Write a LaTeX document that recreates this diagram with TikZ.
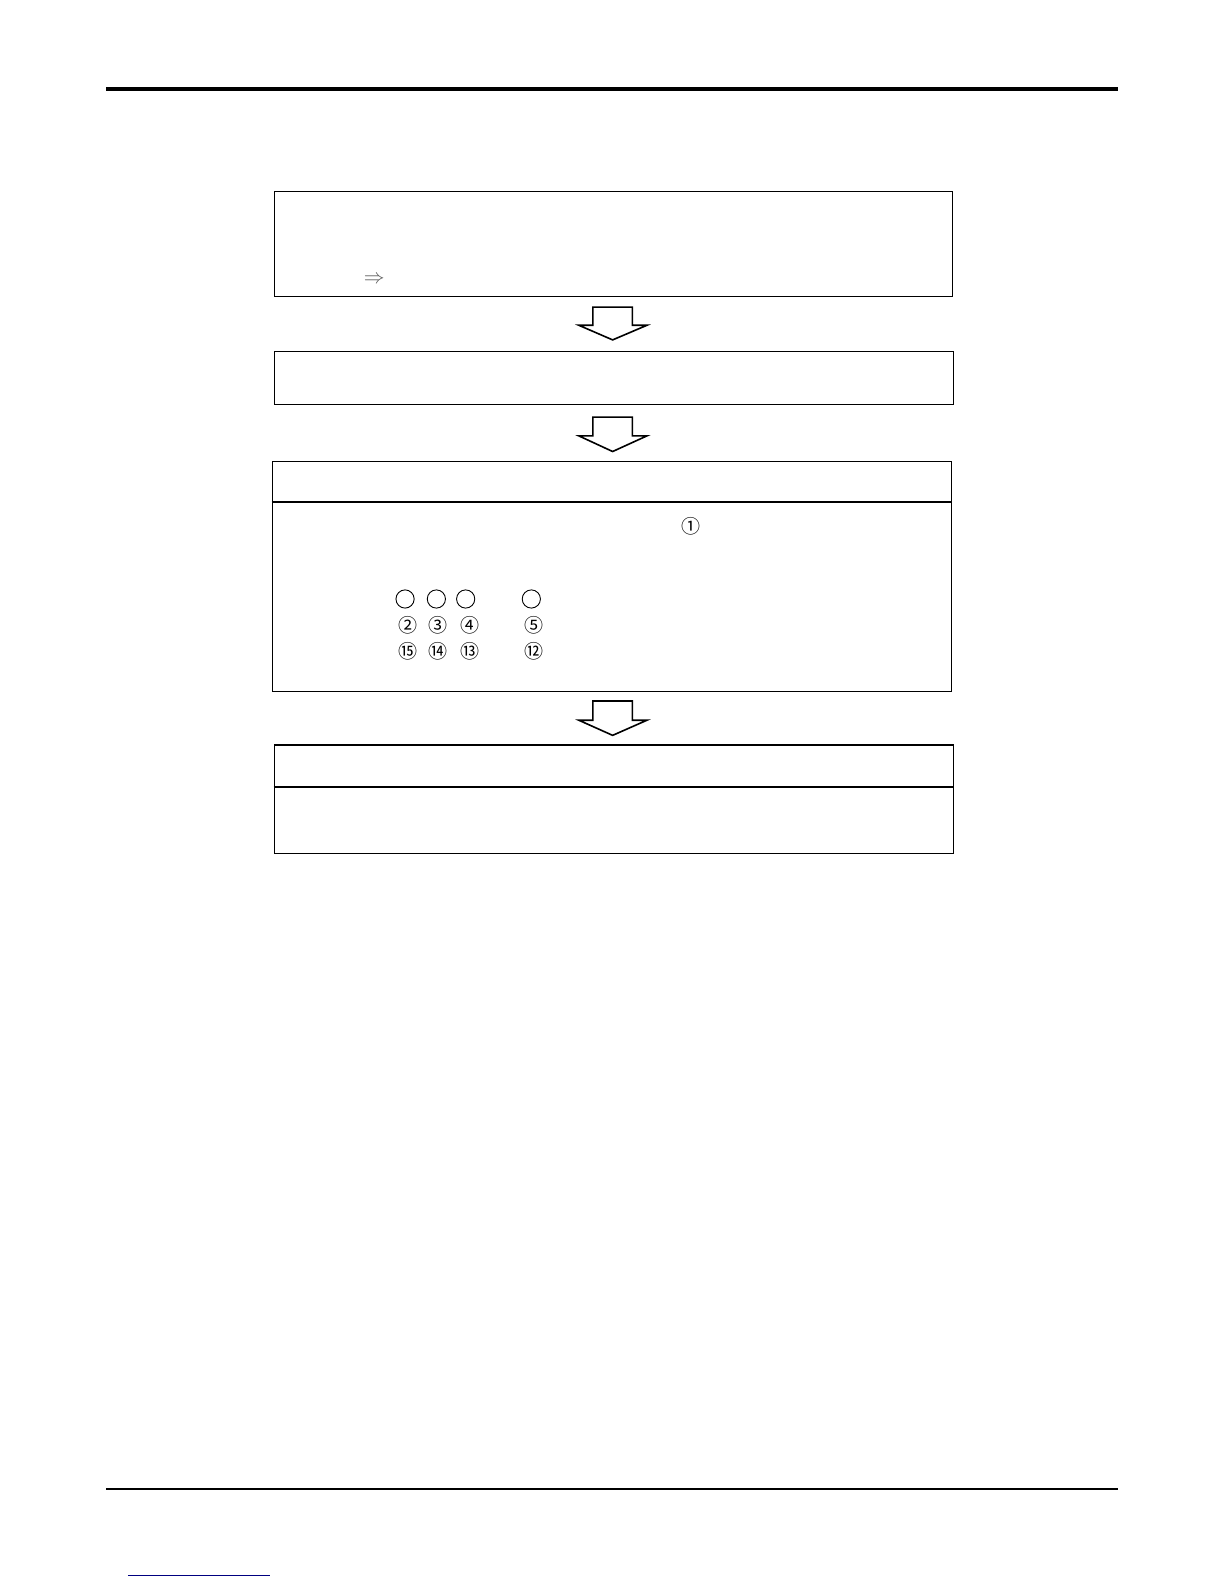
\documentclass[tikz,border=0pt]{standalone}
\usepackage{fontspec}
\newfontfamily\cjk{Noto Sans CJK SC}
\usetikzlibrary{calc}
\begin{document}
\begin{tikzpicture}[x=1.0101pt,y=-1.0101pt,
  box/.style={draw,line width=1.4pt,anchor=north west,inner sep=0pt},
  divider/.style={line width=1.4pt},
  bigarrow/.style={draw,line width=1.6pt,fill=white,line join=miter},
  rule/.style={line width=#1},
  numc/.style={inner sep=0pt,font=\cjk\fontsize{19}{21}\selectfont},
  emptyc/.style={circle,draw,line width=0.9pt,minimum size=18.2pt,inner sep=0pt},
  arrowtext/.style={inner sep=0pt,text=black!65,font=\fontsize{20}{22}\selectfont}]
\useasboundingbox (0,0) rectangle (1211.76,1568.16);
% header and footer rules
\coordinate (tl) at (105,88);  \coordinate (tr) at (1107,88);
\draw[rule=4pt] (tl) -- (tr);
\coordinate (bl) at (105,1474); \coordinate (br) at (1107,1474);
\draw[rule=2.6pt] (bl) -- (br);
\coordinate (ul) at (126.7,1559.5); \coordinate (ur) at (267.3,1559.5);
\draw[line width=1.5pt,color={rgb,255:red,0;green,0;blue,128}] (ul) -- (ur);
% boxes
\node[box,minimum width=677.8pt,minimum height=105.05pt] (b1) at (271,189) {};
\node[box,minimum width=678.8pt,minimum height=53.5pt] (b2) at (271,347) {};
\node[box,minimum width=678.8pt,minimum height=230.3pt] (b3) at (269,456) {};
\node[box,minimum width=678.8pt,minimum height=108.1pt] (b4) at (271,737) {};
\draw[divider] ($(b3.north west)+(0,41)$) -- ($(b3.north east)+(0,41)$);
\draw[divider] ($(b4.north west)+(0,42)$) -- ($(b4.north east)+(0,42)$);
% block arrows
\foreach \a/\b/\t/\s/\e in {b1/b2/304/322/336.5, b2/b3/413/431.5/447, b3/b4/694/713/728}{
  \coordinate (tip) at (606.5,\e);
  \draw[bigarrow] (587,\t) -- (626,\t) -- (626,\s) -- (640.5,\s) -- (tip) -- (573,\s) -- (587,\s) -- cycle;
}
% texts
\node[arrowtext] (impl) at (370.5,277) {$\Rightarrow$};
\node[numc] (n1) at (684,521) {①};
\node[emptyc] (e1) at (401,593) {};
\node[emptyc] (e2) at (432,593) {};
\node[emptyc] (e3) at (461,593) {};
\node[emptyc] (e4) at (526,593) {};
\node[numc] (n2) at (403.5,619.5) {②};
\node[numc] (n3) at (433.5,619.5) {③};
\node[numc] (n4) at (465,619.5) {④};
\node[numc] (n5) at (528.5,619.5) {⑤};
\node[numc] (n15) at (403.5,645) {⑮};
\node[numc] (n14) at (433.5,645) {⑭};
\node[numc] (n13) at (465,645) {⑬};
\node[numc] (n12) at (528.5,645) {⑫};
\end{tikzpicture}
\end{document}
